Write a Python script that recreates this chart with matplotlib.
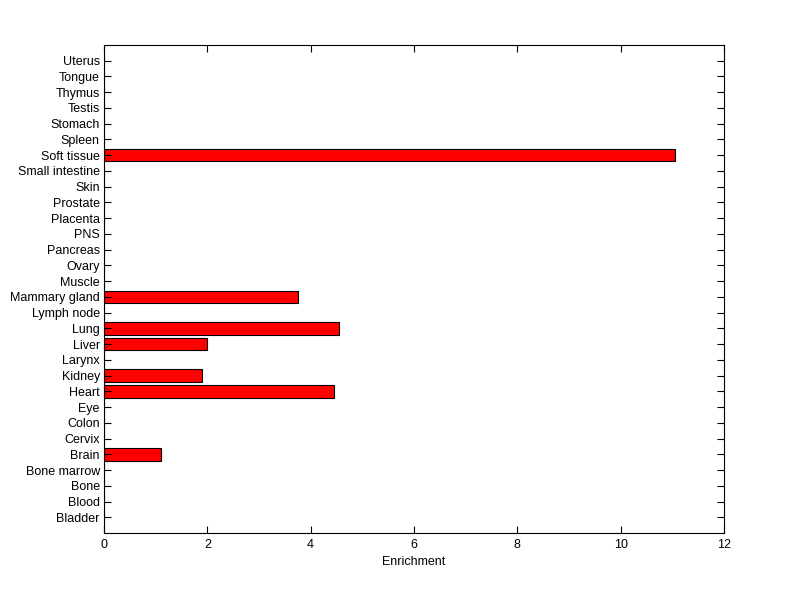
import matplotlib
matplotlib.use("Agg")
import matplotlib.pyplot as plt

# tissues, bottom to top
tissues = ["Bladder", "Blood", "Bone", "Bone marrow", "Brain", "Cervix", "Colon",
           "Eye", "Heart", "Kidney", "Larynx", "Liver", "Lung", "Lymph node",
           "Mammary gland", "Muscle", "Ovary", "Pancreas", "PNS", "Placenta",
           "Prostate", "Skin", "Small intestine", "Soft tissue", "Spleen",
           "Stomach", "Testis", "Thymus", "Tongue", "Uterus"]
enrichment = [0, 0, 0, 0, 1.1, 0, 0,
              0, 4.45, 1.9, 0, 2.0, 4.55, 0,
              3.75, 0, 0, 0, 0, 0,
              0, 0, 0, 11.05, 0,
              0, 0, 0, 0, 0]
xticks = [0, 2, 4, 6, 8, 10, 12]

plt.rcParams['font.family'] = ['Liberation Sans', 'DejaVu Sans']

fig = plt.figure(figsize=(8, 5.99), dpi=100)
ax = fig.add_axes([0.13, 0.11, 0.775, 0.815])

pos = list(range(1, len(tissues) + 1))
ax.barh(pos, enrichment, height=0.8, color='red', edgecolor='black', linewidth=0.8)

ax.set_xlim(0, 12)
ax.set_ylim(0, len(tissues) + 1)
ax.set_yticks(pos)
ax.set_yticklabels(tissues, fontsize=9)
ax.set_xticks(xticks)
ax.set_xticklabels([str(t) for t in xticks], fontsize=9)
ax.set_xlabel("Enrichment", fontsize=9, labelpad=4)

ax.tick_params(direction='in', top=True, right=True, length=5, width=0.8, pad=4)
ax.tick_params(axis='y', pad=3)
for s in ax.spines.values():
    s.set_linewidth(0.8)

fig.savefig("out.png", dpi=100, facecolor='white')
